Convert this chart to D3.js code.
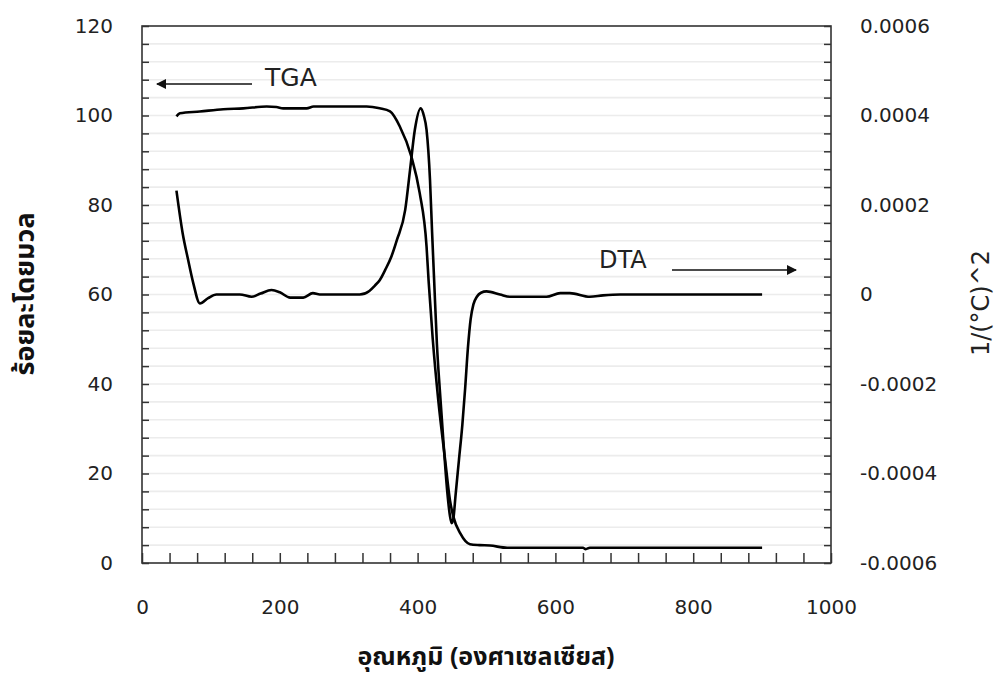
<!DOCTYPE html>
<html>
<head>
<meta charset="utf-8">
<script src="https://cdn.jsdelivr.net/npm/d3@7"></script>
<style>
  html, body { margin: 0; padding: 0; background: #fff; }
  svg { display: block; }
  .tick text { font-family: "DejaVu Sans", Verdana, sans-serif; fill: #222; }
</style>
</head>
<body>
<svg id="chart" width="995" height="679"></svg>
<script>
// ---- Data ----
const tgaTemp = [50, 55, 84, 118, 147, 181, 195, 205, 239, 249, 326, 345, 360, 374, 391, 403, 413, 416, 422, 430, 440, 447, 452, 462, 476, 490, 505, 530, 640, 644, 650, 900];
const tgaMass = [99.8, 100.5, 100.9, 101.4, 101.6, 102.0, 101.9, 101.6, 101.6, 102.0, 102.0, 101.6, 100.9, 97.6, 90.8, 82.7, 70.7, 63.0, 50.0, 36.4, 23.0, 14.0, 10.3, 6.6, 4.2, 4.0, 3.9, 3.4, 3.4, 3.1, 3.4, 3.4];

const dtaTemp = [50, 59, 67, 74.5, 84, 96, 108, 142, 159, 172, 188, 200, 215, 234, 248, 258, 316, 330, 338, 345, 353, 362, 370, 382, 389, 396, 404.5, 409, 413, 418, 421, 424, 428, 433, 438, 443, 447, 449.5, 452, 455, 460, 465, 469, 473, 477, 481, 486, 492, 500, 519.6, 534, 587, 607, 621, 650, 669, 694, 900];
const dtaSignal = [0.000232, 0.000137, 0.000077, 0.000025, -0.000020, -0.000008, 0.0, 0.0, -0.000005, 0.000002, 0.000010, 0.000005, -0.000007, -0.000007, 0.000003, 0.0, 0.0, 0.000008, 0.000020, 0.000032, 0.000055, 0.000085, 0.000122, 0.000189, 0.000278, 0.000368, 0.000416, 0.000400, 0.000368, 0.000256, 0.000140, 0.000032, -0.000110, -0.000230, -0.000340, -0.000440, -0.000495, -0.000511, -0.000500, -0.000450, -0.000370, -0.000290, -0.000210, -0.000120, -0.000055, -0.000022, -0.000005, 0.000004, 0.000007, 0.0, -0.000005, -0.000005, 0.000003, 0.000003, -0.000005, -0.000002, 0.0, 0.0];

const xTickLabels = [0, 200, 400, 600, 800, 1000];
const leftTickLabels = [0, 20, 40, 60, 80, 100, 120];
const rightTickLabels = [-0.0006, -0.0004, -0.0002, 0, 0.0002, 0.0004, 0.0006];

const xTitle = "อุณหภูมิ (องศาเซลเซียส)";
const yLeftTitle = "ร้อยละโดยมวล";
const yRightTitle = "1/(°C)^2";

// ---- Layout ----
const L = 142, R = 831, T = 26, B = 563;
const svg = d3.select("#chart");

const x = d3.scaleLinear().domain([0, 1000]).range([L, R]);
const yL = d3.scaleLinear().domain([0, 120]).range([B, T]);
const yR = d3.scaleLinear().domain([-0.0006, 0.0006]).range([B, T]);

// gridlines every 4 units
const gridVals = d3.range(4, 120, 4);
svg.append("g").selectAll("line").data(gridVals).join("line")
  .attr("x1", L).attr("x2", R)
  .attr("y1", d => yL(d)).attr("y2", d => yL(d))
  .attr("stroke", "#ececec").attr("stroke-width", 1.6);

const tickFont = 20;

// x axis
const xAxis = d3.axisBottom(x)
  .tickValues(d3.range(0, 1001, 40))
  .tickSizeInner(-10).tickSizeOuter(0).tickPadding(37)
  .tickFormat(d => xTickLabels.includes(d) ? d3.format("d")(d) : "");
const gx = svg.append("g").attr("transform", `translate(0,${B})`).call(xAxis);

// left axis
const yLAxis = d3.axisLeft(yL)
  .tickValues(d3.range(0, 121, 4))
  .tickSizeInner(-7).tickSizeOuter(0).tickPadding(29)
  .tickFormat(d => leftTickLabels.includes(d) ? String(d) : "");
const gl = svg.append("g").attr("transform", `translate(${L},0)`).call(yLAxis);

// right axis
const rightTickVals = d3.range(0, 31).map(i => -0.0006 + i * 0.00004);
const yRAxis = d3.axisRight(yR)
  .tickValues(rightTickVals)
  .tickSizeInner(-7).tickSizeOuter(0).tickPadding(29)
  .tickFormat((d, i) => (i % 5 === 0) ? String(rightTickLabels[i / 5]) : "");
const gr = svg.append("g").attr("transform", `translate(${R},0)`).call(yRAxis);

[gx, gl, gr].forEach(g => {
  g.select(".domain").remove();
  g.selectAll(".tick line").attr("stroke", "#333").attr("stroke-width", 1.5);
  g.selectAll(".tick text").attr("font-size", tickFont).attr("fill", "#222");
});

// frame
svg.append("rect").attr("x", L).attr("y", T).attr("width", R - L).attr("height", B - T)
  .attr("fill", "none").attr("stroke", "#333").attr("stroke-width", 1.6);

// curves
const tgaLine = d3.line().x((d, i) => x(tgaTemp[i])).y(d => yL(d)).curve(d3.curveMonotoneX);
const dtaLine = d3.line().x((d, i) => x(dtaTemp[i])).y(d => yR(d)).curve(d3.curveMonotoneX);

svg.append("path").attr("d", tgaLine(tgaMass)).attr("fill", "none")
  .attr("stroke", "#000").attr("stroke-width", 2.6).attr("stroke-linejoin", "round");
svg.append("path").attr("d", dtaLine(dtaSignal)).attr("fill", "none")
  .attr("stroke", "#000").attr("stroke-width", 2.6).attr("stroke-linejoin", "round");

// annotations
const defs = svg.append("defs");
defs.append("marker").attr("id", "arrow").attr("viewBox", "0 0 10 10")
  .attr("refX", 9).attr("refY", 5).attr("markerWidth", 10).attr("markerHeight", 10)
  .attr("markerUnits", "userSpaceOnUse").attr("orient", "auto")
  .append("path").attr("d", "M0,0 L10,5 L0,10 Z").attr("fill", "#111");

svg.append("line").attr("x1", 252).attr("y1", 84).attr("x2", 157).attr("y2", 84)
  .attr("stroke", "#111").attr("stroke-width", 1.5).attr("marker-end", "url(#arrow)");
svg.append("text").attr("x", 265).attr("y", 86).text("TGA")
  .attr("font-family", "DejaVu Sans, sans-serif").attr("font-size", 25).attr("fill", "#222");

svg.append("line").attr("x1", 672).attr("y1", 270).attr("x2", 796).attr("y2", 270)
  .attr("stroke", "#111").attr("stroke-width", 1.5).attr("marker-end", "url(#arrow)");
svg.append("text").attr("x", 599).attr("y", 268).text("DTA")
  .attr("font-family", "DejaVu Sans, sans-serif").attr("font-size", 24).attr("fill", "#222");

// titles
svg.append("text").attr("x", 486).attr("y", 665).attr("text-anchor", "middle")
  .attr("font-family", "Tahoma, 'Noto Sans Thai', 'DejaVu Sans', sans-serif")
  .attr("font-weight", "bold").attr("font-size", 25).attr("fill", "#111").text(xTitle);

svg.append("text").attr("transform", "translate(34,294) rotate(-90)").attr("text-anchor", "middle")
  .attr("font-family", "Tahoma, 'Noto Sans Thai', 'DejaVu Sans', sans-serif")
  .attr("font-weight", "bold").attr("font-size", 27).attr("fill", "#111").text(yLeftTitle);

svg.append("text").attr("transform", "translate(989,303) rotate(-90)").attr("text-anchor", "middle")
  .attr("font-family", "DejaVu Sans, sans-serif")
  .attr("font-size", 24).attr("fill", "#222").text(yRightTitle);
</script>
</body>
</html>
